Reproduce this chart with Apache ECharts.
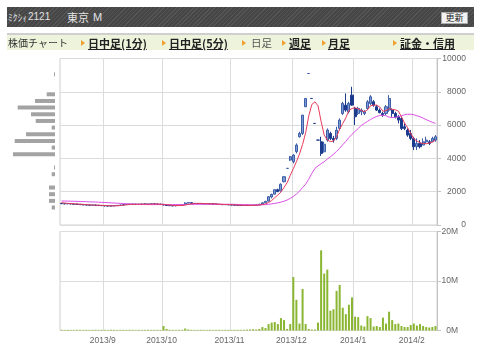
<!DOCTYPE html>
<html><head><meta charset="utf-8">
<script src="https://cdn.jsdelivr.net/npm/echarts/dist/echarts.min.js"></script>
<style>
html,body{margin:0;padding:0;background:#fff;width:480px;height:349px;overflow:hidden;font-family:"Noto Sans CJK JP","Noto Sans",sans-serif;}
#chart{position:absolute;left:0;top:0;width:480px;height:349px;}
#hdr{position:absolute;left:7px;top:7px;width:467px;height:20px;background:repeating-linear-gradient(135deg,#555 0px,#555 1px,#464646 1px,#464646 3px);color:#e2e2e2;font-size:11px;z-index:2;}
#hdr span{position:absolute;top:3px;line-height:14px;white-space:nowrap;}
#btn{position:absolute;left:434px;top:5px;width:25px;height:10px;background:#f2f2f2;border:1px solid #aaa;color:#222;font-size:9px;line-height:10px;text-align:center;}
#nav{position:absolute;left:7px;top:33px;width:467px;height:15px;background:#eef4dc;border-top:2px solid #cfcfcf;z-index:2;font-size:11px;color:#222;}
#nav .t{position:absolute;top:1px;line-height:14px;white-space:nowrap;}
#nav .b{font-weight:bold;text-decoration:underline;}
#nav .g{color:#555;}
#nav .a{position:absolute;top:5px;width:0;height:0;border-left:4px solid #f0a030;border-top:3px solid transparent;border-bottom:3px solid transparent;}
</style>
</head><body>
<div id="chart"></div>
<div id="hdr"><span style="left:1px;font-size:9.5px">ﾐｸｼｨ</span><span style="left:21px;font-size:10px;font-family:'Liberation Sans',Arial,sans-serif">2121</span><span style="left:60px">東京</span><span style="left:86px;font-family:'Liberation Sans',Arial,sans-serif">M</span><div id="btn">更新</div></div>
<div id="nav">
<span class="t" style="left:1px;font-size:10px;color:#333">株価チャート</span>
<span class="a" style="left:74px"></span><span class="t b" style="left:81px">日中足(1分)</span>
<span class="a" style="left:155px"></span><span class="t b" style="left:162px">日中足(5分)</span>
<span class="a" style="left:235px"></span><span class="t g" style="left:244px;font-size:10.5px">日足</span>
<span class="a" style="left:275px"></span><span class="t b" style="left:282px">週足</span>
<span class="a" style="left:315px"></span><span class="t b" style="left:321px">月足</span>
<span class="a" style="left:386px"></span><span class="t b" style="left:393px">証金・信用</span>
</div>
<script>
const dates = [
'2013/08/13','2013/08/14','2013/08/15','2013/08/16','2013/08/19','2013/08/20','2013/08/21','2013/08/22','2013/08/23','2013/08/26','2013/08/27','2013/08/28','2013/08/29','2013/08/30',
'2013/09/02','2013/09/03','2013/09/04','2013/09/05','2013/09/06','2013/09/09','2013/09/10','2013/09/11','2013/09/12','2013/09/13','2013/09/17','2013/09/18','2013/09/19','2013/09/20','2013/09/24','2013/09/25','2013/09/26','2013/09/27','2013/09/30',
'2013/10/01','2013/10/02','2013/10/03','2013/10/04','2013/10/07','2013/10/08','2013/10/09','2013/10/10','2013/10/11','2013/10/15','2013/10/16','2013/10/17','2013/10/18','2013/10/21','2013/10/22','2013/10/23','2013/10/24','2013/10/25','2013/10/28','2013/10/29','2013/10/30','2013/10/31',
'2013/11/01','2013/11/05','2013/11/06','2013/11/07','2013/11/08','2013/11/11','2013/11/12','2013/11/13','2013/11/14','2013/11/15','2013/11/18','2013/11/19','2013/11/20','2013/11/21','2013/11/22','2013/11/25','2013/11/26','2013/11/27','2013/11/28','2013/11/29',
'2013/12/02','2013/12/03','2013/12/04','2013/12/05','2013/12/06','2013/12/09','2013/12/10','2013/12/11','2013/12/12','2013/12/13','2013/12/16','2013/12/17','2013/12/18','2013/12/19','2013/12/20','2013/12/24','2013/12/25','2013/12/26','2013/12/27','2013/12/30',
'2014/01/06','2014/01/07','2014/01/08','2014/01/09','2014/01/10','2014/01/14','2014/01/15','2014/01/16','2014/01/17','2014/01/20','2014/01/21','2014/01/22','2014/01/23','2014/01/24','2014/01/27','2014/01/28','2014/01/29','2014/01/30','2014/01/31',
'2014/02/03','2014/02/04','2014/02/05','2014/02/06','2014/02/07','2014/02/10','2014/02/12','2014/02/13'];

const opens = [1300,1280,1270,1290,1260,1250,1240,1220,1210,1200,1190,1200,1180,1170,1160,1150,1140,1150,1160,1180,1200,1230,1240,1250,1250,1240,1250,1260,1250,1260,1270,1260,1250,1240,1200,1170,1160,1150,1170,1180,1220,1320,1340,1300,1290,1280,1280,1270,1280,1270,1260,1240,1230,1220,1230,1210,1200,1190,1180,1170,1180,1170,1180,1190,1210,
1250,1340,1430,1680,1850,2120,2050,2600,3400,3900,3800,4400,5300,5500,7100,9100,7600,6100,5100,5000,4400,5100,5500,5200,5200,5800,6700,7200,6800,7800,7000,6700,6800,6700,7000,7300,7400,7100,6900,6700,6700,6900,6900,6700,6500,6400,5900,5700,5500,5200,4700,4900,4800,5000,5000,5000,5100];
const closes = [1280,1270,1290,1260,1250,1240,1220,1210,1200,1190,1200,1180,1170,1160,1150,1140,1150,1160,1180,1200,1230,1240,1250,1250,1240,1250,1260,1250,1260,1270,1260,1250,1240,1200,1170,1160,1150,1170,1180,1200,1320,1340,1300,1290,1280,1280,1270,1280,1270,1260,1240,1230,1220,1230,1210,1200,1190,1180,1170,1180,1170,1180,1190,1210,1250,
1330,1420,1700,1840,2120,2000,2450,2900,3400,4100,4200,4800,5500,6600,7600,9100,7600,6100,5100,4300,4850,5700,5200,5100,5700,6300,7300,6900,7300,7200,6500,7000,6900,6800,7400,7700,7200,6900,6750,6600,7100,7600,6700,6500,6300,5800,5800,5400,5200,4700,4900,4700,5000,5100,4900,5200,5300];
const lows = [1260,1250,1250,1240,1230,1220,1200,1190,1180,1170,1170,1160,1150,1140,1130,1120,1120,1130,1140,1160,1180,1210,1220,1230,1220,1220,1230,1230,1230,1240,1240,1230,1220,1180,1150,1140,1130,1130,1150,1160,1200,1300,1280,1270,1260,1260,1250,1250,1250,1240,1220,1210,1200,1200,1190,1180,1170,1160,1150,1150,1150,1150,1160,1170,1190,
1240,1330,1420,1600,1840,1980,2020,2560,3400,3850,3700,4300,5250,5400,7100,9100,7600,6100,5100,4150,4350,5000,5100,4950,5100,5700,6600,6800,6700,7150,6000,6600,6600,6600,6900,7200,7100,6850,6700,6500,6600,6800,6500,6400,6100,5700,5700,5300,5100,4500,4500,4600,4800,4900,4800,5000,5000];
const highs = [1320,1300,1310,1310,1280,1270,1260,1240,1230,1220,1220,1220,1200,1190,1180,1170,1170,1180,1200,1220,1250,1260,1270,1270,1270,1270,1280,1280,1280,1290,1290,1280,1270,1260,1220,1190,1180,1190,1200,1220,1360,1360,1360,1320,1310,1300,1300,1300,1300,1290,1280,1260,1250,1250,1250,1230,1220,1210,1200,1200,1200,1200,1210,1230,1270,
1350,1450,1720,1880,2150,2180,2500,2940,3400,4150,4250,4900,5600,6600,7600,9100,7600,6100,5100,5300,5000,5800,5600,5350,5900,6400,7400,7900,7400,8300,7100,7100,7000,6900,7500,7800,7500,7200,7000,6800,7200,7800,7000,6800,6600,6500,6100,5800,5700,5300,5200,5100,5200,5300,5100,5300,5400];

// volume, millions of shares
const volumes = [0.15,0.12,0.14,0.13,0.12,0.15,0.13,0.12,0.14,0.12,0.13,0.15,0.12,0.14,0.13,0.12,0.15,0.13,0.12,0.14,0.13,0.12,0.15,0.13,0.12,0.14,0.12,0.13,0.15,0.12,0.14,0.13,0.12,
0.9,0.3,0.15,0.13,0.12,0.14,0.13,0.4,0.2,
0.14,0.13,0.12,0.15,0.13,0.12,0.14,0.12,0.13,0.15,0.12,0.14,0.13,0.12,0.15,0.13,0.14,0.15,0.18,0.2,0.25,0.2,0.3,
0.7,0.5,1.3,1.6,1.7,1.3,2.5,2.1,0.3,1.3,10.8,6.2,1.4,8.4,1.3,0.3,0.2,0.2,1.6,16.2,11.5,12.3,4.0,4.3,8.0,9.2,4.6,3.3,5.2,6.7,2.8,2.7,1.0,0.8,2.9,2.5,0.8,0.9,0.7,2.6,1.4,3.8,2.1,1.3,1.4,0.9,0.7,0.7,1.1,1.4,1.0,1.3,0.9,0.7,0.6,0.7,0.9];

const ma5 = [1340,1320,1300,1290,1270,1260,1250,1240,1220,1210,1200,1190,1190,1180,1170,1160,1150,1150,1160,1170,1190,1210,1230,1240,1240,1250,1250,1250,1250,1260,1260,1260,1250,1240,1220,1200,1180,1170,1170,1170,1200,1240,1270,1290,1300,1300,1290,1280,1280,1270,1260,1250,1240,1230,1230,1220,1210,1200,1190,1180,1180,1180,1180,1190,1200,
1230,1270,1350,1470,1640,1800,1980,2260,2540,2980,3380,3800,4260,4840,5540,6560,7240,7400,7160,6220,5400,5100,5010,5040,5300,5750,6100,6440,6880,7000,7040,6980,6880,6800,6920,7160,7200,7200,7080,6830,6870,6990,6950,6920,6840,6500,6120,5840,5500,5180,5040,4940,4900,4880,4920,4980,5100];
const ma25 = [1440,1440,1435,1430,1425,1420,1415,1410,1400,1390,1385,1380,1370,1360,1350,1340,1330,1320,1310,1300,1290,1280,1270,1260,1250,1240,1235,1230,1225,1225,1225,1225,1225,1225,1225,1225,1225,1225,1225,1225,1230,1235,1235,1240,1240,1245,1245,1245,1245,1245,1245,1245,1245,1245,1245,1245,1240,1235,1230,1225,1220,1215,1210,1210,1210,
1215,1225,1245,1270,1300,1330,1370,1430,1500,1600,1710,1860,2030,2250,2450,2750,3100,3400,3550,3680,3800,3960,4100,4250,4420,4610,4820,5020,5250,5450,5620,5800,5980,6100,6220,6340,6440,6520,6580,6600,6560,6480,6450,6460,6500,6560,6620,6650,6650,6620,6560,6500,6420,6330,6250,6170,6100];

// volume by price band (band centre, yen) and traded volume (millions)
const bandPrices = [250,650,1050,1450,1850,2250,2650,3050,3450,3850,4250,4650,5050,5450,5850,6250,6650,7050,7450,7850,8250,8650,9050,9450,9850];
const bandVolumes = [0,0,3.3,6,6,6,0,3.3,1,0,42,3.3,40.3,29,3.3,19.3,24,37.3,20,8.3,0,0,1,0,0];

const priceAxis = {min:0, max:10000, interval:2000};
const volumeAxis = {min:0, max:20, interval:10};

const isMonthStart = (i) => i > 0 && dates[i].slice(0,7) !== dates[i-1].slice(0,7);
const monthLabel = (v) => { const p = v.split('/'); return p[0] + '/' + (+p[1]); };

const chart = echarts.init(document.getElementById('chart'), null, {renderer:'canvas'});
const gridLine = {lineStyle:{color:'#dcdcdc', width:1}};
chart.setOption({
  animation:false,
  backgroundColor:'#fff',
  grid:[
    {left:60, top:58.5, width:377, height:166.5, show:true, borderColor:'#cfcfcf', borderWidth:1},
    {left:60, top:231.5, width:377, height:99, show:true, borderColor:'#cfcfcf', borderWidth:1},
    {left:10, top:57.67, width:45, height:166.5, show:false}
  ],
  xAxis:[
    {type:'category', gridIndex:0, data:dates, boundaryGap:true, axisLine:{show:false}, axisTick:{show:false}, axisLabel:{show:false},
     splitLine:Object.assign({show:true, interval:(i)=>isMonthStart(i)}, gridLine)},
    {type:'category', gridIndex:1, data:dates, boundaryGap:true, axisLine:{show:false}, axisTick:{show:false},
     axisLabel:{show:true, interval:(i)=>isMonthStart(i), formatter:monthLabel, color:'#666', fontSize:8.5, fontFamily:'Liberation Sans, Arial, sans-serif', margin:6, padding:[0,4,0,0]},
     splitLine:Object.assign({show:true, interval:(i)=>isMonthStart(i)}, gridLine)},
    {type:'value', gridIndex:2, inverse:true, min:0, max:45, show:false}
  ],
  yAxis:[
    {type:'value', gridIndex:0, position:'right', min:priceAxis.min, max:priceAxis.max, interval:priceAxis.interval,
     axisLine:{show:true, lineStyle:{color:'#c4c4c4'}}, axisTick:{show:true, length:4, lineStyle:{color:'#c4c4c4'}},
     axisLabel:{align:'right', margin:29, color:'#666', fontSize:8.5, fontFamily:'Liberation Sans, Arial, sans-serif', formatter:(v)=>String(v)},
     splitLine:gridLine},
    {type:'value', gridIndex:1, position:'right', min:volumeAxis.min, max:volumeAxis.max, interval:volumeAxis.interval,
     axisLine:{show:true, lineStyle:{color:'#c4c4c4'}}, axisTick:{show:true, length:4, lineStyle:{color:'#c4c4c4'}},
     axisLabel:{align:'right', margin:21, color:'#666', fontSize:8.5, fontFamily:'Liberation Sans, Arial, sans-serif', formatter:(v)=>v+'M'},
     splitLine:gridLine},
    {type:'category', gridIndex:2, data:bandPrices.map(String), boundaryGap:true, show:false}
  ],
  series:[
    {type:'candlestick', xAxisIndex:0, yAxisIndex:0, barWidth:2.6,
     data:dates.map((d,i)=>[opens[i], closes[i], lows[i], highs[i]]),
     itemStyle:{color:'#7d9ad2', color0:'#1d3b8c', borderColor:'#3d5ea8', borderColor0:'#1d3b8c', borderWidth:1}},
    {type:'line', xAxisIndex:0, yAxisIndex:0, data:ma25, symbol:'none', lineStyle:{color:'#dd4fe8', width:1}},
    {type:'line', xAxisIndex:0, yAxisIndex:0, data:ma5, symbol:'none', lineStyle:{color:'#e83a5c', width:1}},
    {type:'bar', xAxisIndex:1, yAxisIndex:1, data:volumes, barWidth:2, itemStyle:{color:'#8ab632'}},
    {type:'bar', xAxisIndex:2, yAxisIndex:2, data:bandVolumes, barWidth:4, itemStyle:{color:'#a3a3a3'}}
  ]
});
</script>
</body></html>
